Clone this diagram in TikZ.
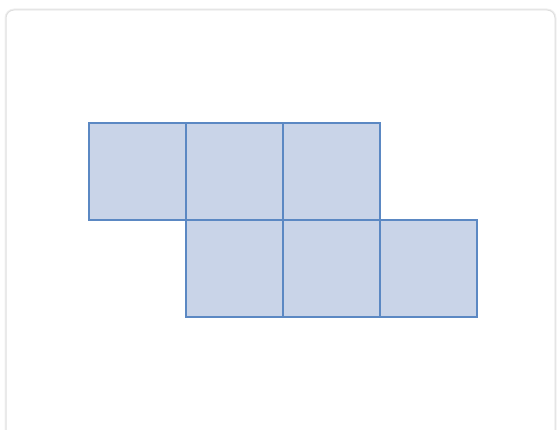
\documentclass[tikz,border=0pt]{standalone}
\usetikzlibrary{positioning}
\definecolor{cellfill}{HTML}{C9D4E8}
\definecolor{cellline}{HTML}{5B88C3}
\begin{document}
\begin{tikzpicture}[
        x=1pt, y=-1pt,
        cell/.style={%
            draw=cellline, fill=cellfill, line width=1.6pt,
            minimum size=97pt, outer sep=0pt, inner sep=0pt,
            },
        card/.style={%
            draw=gray!25, line width=1pt, fill=white, rounded corners=8pt,
            preaction={draw=gray!12, line width=3pt},
            },
    ]
  \useasboundingbox (0,0) rectangle (558,430);
  \draw[card] (6,10) rectangle (555,440);
  \node[cell] (t1) at (137.5,171.5) {};
  \node[cell, right=0pt of t1] (t2) {};
  \node[cell, right=0pt of t2] (t3) {};
  \node[cell, below=0pt of t2] (b1) {};
  \node[cell, right=0pt of b1] (b2) {};
  \node[cell, right=0pt of b2] (b3) {};
\end{tikzpicture}
\end{document}
